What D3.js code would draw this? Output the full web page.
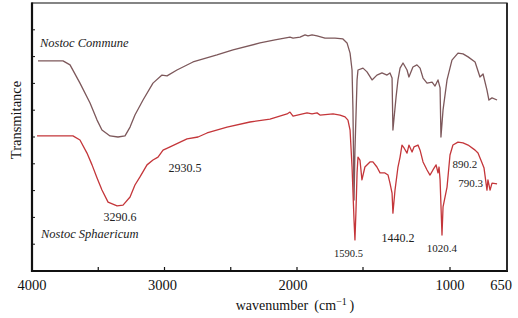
<!DOCTYPE html>
<html><head><meta charset="utf-8">
<script src="https://cdn.jsdelivr.net/npm/d3@7"></script>
<style>html,body{margin:0;padding:0;background:#fff;}svg{display:block;}</style>
</head><body>
<script>
// ---- data ----
const communeWn = [3955,3766,3713,3638,3562,3509,3472,3411,3351,3298,3260,3223,3162,3087,3019,2981,2906,2785,2604,2483,2279,2166,2053,2030,1977,1939,1917,1886,1848,1788,1712,1652,1621,1598,1583,1576,1568,1561,1545,1538,1500,1477,1448,1420,1391,1362,1345,1333,1328,1310,1299,1287,1270,1247,1236,1213,1190,1172,1155,1132,1103,1086,1069,1057,1052,1040,1017,988,951,920,889,846,816,797,773,761,742,711];
const communeT  = [78.4,78.4,76.9,70.1,62.7,56.3,52.6,50.4,50.0,50.4,53.7,58.2,63.8,70.1,73.1,72.8,75.0,78.0,80.6,82.5,85.1,86.2,87.3,86.9,87.3,88.1,87.7,88.1,87.7,86.9,86.9,86.6,85.1,81.3,75.0,60.1,26.5,45.1,71.3,75.0,75.7,74.3,71.3,73.1,73.9,73.1,73.9,72.0,52.6,64.9,71.3,75.7,77.6,75.0,72.4,76.1,76.9,75.7,72.0,70.1,70.5,69.0,71.3,68.3,50.0,60.1,71.3,78.7,81.3,81.0,79.9,78.0,72.4,73.5,67.5,63.8,64.6,63.8];
const sphaericumWn = [3962,3691,3638,3585,3547,3509,3472,3426,3358,3313,3260,3223,3185,3132,3087,3049,3011,2958,2830,2747,2679,2528,2355,2204,2075,2053,2030,1924,1886,1848,1826,1727,1674,1636,1614,1598,1583,1568,1561,1553,1545,1538,1523,1508,1489,1460,1443,1420,1402,1374,1356,1345,1333,1328,1316,1299,1287,1276,1264,1247,1236,1218,1207,1184,1172,1155,1132,1115,1098,1080,1069,1063,1057,1046,1040,1017,1000,982,951,920,889,846,828,803,791,773,767,754,742,711];
const sphaericumT  = [50.4,50.4,48.9,44.0,39.6,34.7,30.2,25.7,24.3,24.6,27.6,32.1,35.1,39.6,41.4,42.5,45.1,46.3,49.3,50.0,51.5,53.7,55.6,56.7,58.6,59.3,57.8,59.0,58.6,59.0,58.2,58.6,58.2,57.5,56.3,52.6,38.8,19.0,11.6,22.8,36.6,42.5,41.4,34.0,38.8,40.7,40.7,38.8,36.6,36.6,35.8,32.8,29.1,21.6,30.2,38.8,42.5,47.0,45.9,44.0,47.0,44.4,46.3,47.0,45.1,40.7,37.7,35.8,37.7,39.6,36.6,38.8,34.0,13.4,23.9,31.3,43.3,47.0,48.1,47.8,47.0,45.1,44.0,40.3,38.4,30.2,34.0,30.2,32.8,32.5];
const seriesNames = ["Nostoc Commune", "Nostoc Sphaericum"];
const peakLabels = ["3290.6","2930.5","1590.5","1440.2","1020.4","890.2","790.3"];
const xTickLabels = [4000, 3000, 2000, 1000, 650];
const xMinorTicks = [3500, 3000, 2500, 2000, 1500, 1000];
const yTicks = [10,20,30,40,50,60,70,80,90];

// ---- layout ----
const W = 518, H = 318;
const L = 32, R = 507, T = 3, B = 271;
const svg = d3.select("body").append("svg").attr("width", W).attr("height", H);

const x = d3.scaleLinear().domain([4000, 2000, 1500, 1000, 650]).range([L, 297, 363, 450, R]);
const y = d3.scaleLinear().domain([0, 100]).range([B, T]);

const serif = "'Liberation Serif','Times New Roman',serif";

// curves
const line = d3.line().x(d => x(d[0])).y(d => y(d[1]));
const communeData = communeWn.map((w, i) => [w, communeT[i]]);
const sphaericumData = sphaericumWn.map((w, i) => [w, sphaericumT[i]]);
svg.append("path").datum(communeData).attr("d", line)
  .attr("fill", "none").attr("stroke", "#7d585b").attr("stroke-width", 1.3).attr("stroke-linejoin", "round");
svg.append("path").datum(sphaericumData).attr("d", line)
  .attr("fill", "none").attr("stroke", "#c4363a").attr("stroke-width", 1.3).attr("stroke-linejoin", "round");

// frame
svg.append("rect").attr("x", L).attr("y", T).attr("width", R - L).attr("height", B - T)
  .attr("fill", "none").attr("stroke", "#444").attr("stroke-width", 1.3);
svg.append("line").attr("x1", L).attr("x2", L).attr("y1", T - 0.5).attr("y2", B + 1).attr("stroke", "#111").attr("stroke-width", 2.2);
svg.append("line").attr("x1", L).attr("x2", R + 1).attr("y1", B).attr("y2", B).attr("stroke", "#111").attr("stroke-width", 2.2);
svg.append("line").attr("x1", R).attr("x2", R).attr("y1", T).attr("y2", B).attr("stroke", "#222").attr("stroke-width", 1.8);

// x ticks (inward)
svg.append("g").selectAll("line").data(xMinorTicks).join("line")
  .attr("x1", d => x(d)).attr("x2", d => x(d)).attr("y1", B).attr("y2", B - 4)
  .attr("stroke", "#111").attr("stroke-width", 1.2);
// y ticks (inward)
svg.append("g").selectAll("line").data(yTicks).join("line")
  .attr("x1", L).attr("x2", L + 3).attr("y1", d => y(d)).attr("y2", d => y(d))
  .attr("stroke", "#111").attr("stroke-width", 1);

// x tick labels
svg.append("g").selectAll("text").data(xTickLabels).join("text")
  .attr("x", d => x(d) + (d === 650 ? -6 : d === 2000 ? -4 : d === 3000 ? -2 : 0))
  .attr("y", 290).attr("text-anchor", "middle")
  .attr("font-family", serif).attr("font-size", 14.5).attr("fill", "#111")
  .text(d => d);

// axis titles
const xt = svg.append("text").attr("x", 295).attr("y", 310).attr("text-anchor", "middle")
  .attr("font-family", serif).attr("font-size", 14).attr("fill", "#111");
xt.append("tspan").text("wavenumber \u2009(cm");
xt.append("tspan").attr("dy", -5).attr("font-size", 10).text("\u22121");
xt.append("tspan").attr("dy", 5).text("\u2009)");

svg.append("text").attr("transform", "translate(21,120) rotate(-90)")
  .attr("text-anchor", "middle").attr("font-family", serif).attr("font-size", 14.5).attr("fill", "#111")
  .text("Transmitance");

// series names
const namePos = [[3940, 83.6], [3932, 12.3]];
svg.append("g").selectAll("text").data(seriesNames).join("text")
  .attr("x", (d, i) => x(namePos[i][0])).attr("y", (d, i) => y(namePos[i][1]))
  .attr("font-family", serif).attr("font-style", "italic").attr("font-size", 12.5).attr("fill", "#222")
  .text(d => d);

// peak labels
const peakPos = [[3336, 18.7, 12], [2845, 36.9, 12], [1610, 5.2, 10.5], [1299, 10.8, 12], [1046, 7.1, 11], [908, 38.4, 11], [874, 31.3, 11]];
svg.append("g").selectAll("text").data(peakLabels).join("text")
  .attr("x", (d, i) => x(peakPos[i][0])).attr("y", (d, i) => y(peakPos[i][1]))
  .attr("text-anchor", "middle").attr("font-family", serif)
  .attr("font-size", (d, i) => peakPos[i][2]).attr("fill", "#222")
  .text(d => d);
</script>
</body></html>
